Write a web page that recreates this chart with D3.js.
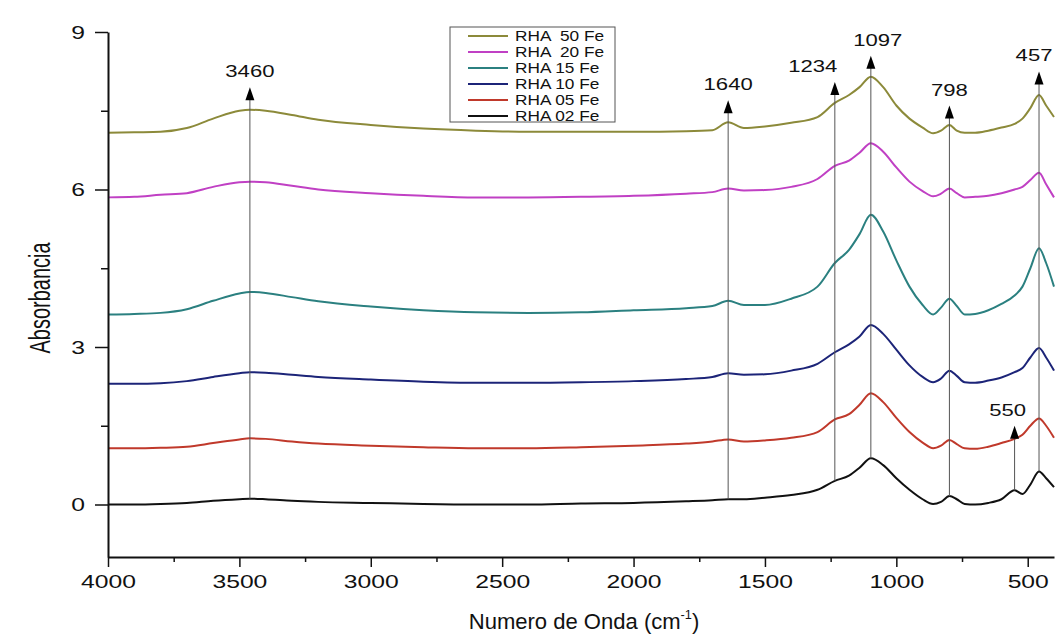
<!DOCTYPE html>
<html>
<head>
<meta charset="utf-8">
<script src="https://cdn.jsdelivr.net/npm/d3@7"></script>
<style>
  body { margin: 0; background: #fff; }
  svg { display: block; font-family: "Liberation Sans", Arial, sans-serif; }
</style>
</head>
<body>
<svg id="chart" width="1060" height="636"></svg>
<script>
// wavenumber grid (cm-1)
const wavenumbers = [4000, 3900, 3800, 3700, 3600, 3500, 3460, 3400, 3300, 3200, 3000, 2800, 2600, 2400, 2200, 2000, 1800, 1700, 1640, 1580, 1500, 1400, 1300, 1234, 1180, 1140, 1097, 1050, 1000, 950, 900, 860, 830, 798, 770, 740, 700, 650, 600, 550, 520, 490, 457, 430, 400];

const rha50 = [7.08, 7.09, 7.10, 7.17, 7.35, 7.50, 7.52, 7.50, 7.42, 7.33, 7.23, 7.16, 7.12, 7.10, 7.10, 7.10, 7.11, 7.13, 7.28, 7.17, 7.20, 7.27, 7.38, 7.65, 7.80, 7.95, 8.15, 7.95, 7.60, 7.35, 7.18, 7.07, 7.12, 7.23, 7.12, 7.08, 7.08, 7.12, 7.18, 7.25, 7.35, 7.55, 7.80, 7.60, 7.38];
const rha20 = [5.85, 5.86, 5.90, 5.93, 6.05, 6.14, 6.15, 6.14, 6.07, 6.00, 5.93, 5.88, 5.85, 5.85, 5.86, 5.88, 5.92, 5.95, 6.02, 5.98, 5.99, 6.05, 6.20, 6.45, 6.55, 6.70, 6.88, 6.72, 6.42, 6.15, 5.97, 5.87, 5.92, 6.02, 5.93, 5.85, 5.86, 5.88, 5.93, 6.00, 6.05, 6.18, 6.32, 6.10, 5.85];
const rha15 = [3.62, 3.63, 3.65, 3.72, 3.88, 4.02, 4.05, 4.03, 3.95, 3.87, 3.77, 3.70, 3.66, 3.65, 3.66, 3.70, 3.74, 3.78, 3.88, 3.80, 3.80, 3.92, 4.15, 4.60, 4.85, 5.15, 5.52, 5.20, 4.65, 4.15, 3.80, 3.62, 3.75, 3.92, 3.78, 3.62, 3.63, 3.70, 3.82, 3.98, 4.15, 4.50, 4.88, 4.60, 4.15];
const rha10 = [2.30, 2.30, 2.31, 2.35, 2.43, 2.50, 2.52, 2.51, 2.47, 2.43, 2.38, 2.34, 2.32, 2.32, 2.33, 2.35, 2.39, 2.43, 2.50, 2.47, 2.48, 2.55, 2.68, 2.90, 3.05, 3.20, 3.42, 3.25, 2.95, 2.65, 2.43, 2.33, 2.40, 2.55, 2.45, 2.33, 2.32, 2.36, 2.42, 2.52, 2.60, 2.80, 2.98, 2.80, 2.55];
const rha05 = [1.07, 1.07, 1.08, 1.10, 1.17, 1.24, 1.26, 1.25, 1.20, 1.16, 1.12, 1.09, 1.07, 1.07, 1.09, 1.12, 1.16, 1.20, 1.24, 1.20, 1.22, 1.27, 1.38, 1.62, 1.72, 1.90, 2.12, 1.95, 1.65, 1.38, 1.18, 1.07, 1.12, 1.23, 1.15, 1.07, 1.06, 1.10, 1.17, 1.25, 1.33, 1.50, 1.64, 1.50, 1.27];
const rha02 = [0.00, 0.00, 0.01, 0.03, 0.07, 0.10, 0.11, 0.10, 0.07, 0.05, 0.03, 0.01, 0.00, 0.00, 0.02, 0.03, 0.06, 0.08, 0.10, 0.10, 0.13, 0.18, 0.28, 0.45, 0.55, 0.70, 0.88, 0.75, 0.50, 0.28, 0.10, 0.01, 0.05, 0.16, 0.10, 0.01, 0.00, 0.03, 0.10, 0.27, 0.20, 0.38, 0.63, 0.50, 0.33];

const seriesNames = ["RHA  50 Fe", "RHA  20 Fe", "RHA 15 Fe", "RHA 10 Fe", "RHA 05 Fe", "RHA 02 Fe"];
const seriesValues = [rha50, rha20, rha15, rha10, rha05, rha02];
const palette = ["#8c8a3a", "#c040c4", "#2b8080", "#1c2478", "#c0392b", "#111111"];

const xTicks = [4000, 3500, 3000, 2500, 2000, 1500, 1000, 500];
const xMinor = [3750, 3250, 2750, 2250, 1750, 1250, 750];
const yTicks = [0, 3, 6, 9];
const yMinor = [1.5, 4.5, 7.5];

// marked bands: wavenumber, arrow tip (absorbance), label
const peakWavenumbers = [3460, 1640, 1234, 1097, 798, 457, 550];
const peakArrowTop = [7.95, 7.70, 8.05, 8.55, 7.60, 8.25, 1.50];
const peakLabels = ["3460", "1640", "1234", "1097", "798", "457", "550"];
const labelShift = [0, 0, -22, 7, 0, -5, -7];

const svg = d3.select('#chart');
const sx = 1.3; // picture is stretched sideways

const x = d3.scaleLinear().domain([4000, 400]).range([108, 1054]);
const y = d3.scaleLinear().domain([-1, 9]).range([557, 32]);

// spectra
const line = d3.line()
    .x(d => x(d[0]))
    .y(d => y(d[1]))
    .curve(d3.curveMonotoneX);

seriesValues.forEach((vals, i) => {
    svg.append('path')
        .datum(wavenumbers.map((w, j) => [w, vals[j]]))
        .attr('fill', 'none')
        .attr('stroke', palette[i])
        .attr('stroke-width', 2)
        .attr('d', line);
});

// vertical marker lines with arrows
peakWavenumbers.forEach((w, i) => {
    const base = rha02[wavenumbers.indexOf(w)];
    const px = x(w);
    const top = y(peakArrowTop[i]);
    svg.append('line')
        .attr('x1', px).attr('x2', px)
        .attr('y1', y(base)).attr('y2', top + 10)
        .attr('stroke', '#555')
        .attr('stroke-width', 1);
    svg.append('path')
        .attr('d', `M${px},${top} L${px - 4.5},${top + 13} L${px + 4.5},${top + 13} Z`)
        .attr('fill', '#000');
    svg.append('text')
        .attr('transform', `translate(${px + labelShift[i]},${top - 10}) scale(${sx},1)`)
        .attr('text-anchor', 'middle')
        .attr('font-size', 17)
        .attr('fill', '#111')
        .text(peakLabels[i]);
});

// axes
const xAxis = svg.append('g')
    .attr('transform', 'translate(0,557)')
    .call(d3.axisBottom(x).tickValues(xTicks).tickFormat(d3.format('d'))
        .tickSize(10).tickSizeOuter(0).tickPadding(8));
svg.append('g')
    .attr('transform', 'translate(0,557)')
    .call(d3.axisBottom(x).tickValues(xMinor).tickSize(5).tickFormat(''))
    .select('.domain').remove();

const yAxis = svg.append('g')
    .attr('transform', 'translate(108,0)')
    .call(d3.axisLeft(y).tickValues(yTicks).tickSize(13).tickSizeOuter(0));
svg.append('g')
    .attr('transform', 'translate(108,0)')
    .call(d3.axisLeft(y).tickValues(yMinor).tickSize(7).tickFormat(''))
    .select('.domain').remove();

svg.selectAll('.domain').attr('stroke-width', 2).attr('stroke', '#111');
svg.selectAll('.tick line').attr('stroke-width', 1.5).attr('stroke', '#111');

xAxis.selectAll('text')
    .attr('font-size', 19)
    .attr('font-family', '"Liberation Sans", Arial, sans-serif')
    .attr('fill', '#111')
    .attr('transform', `scale(${sx},1)`);

yAxis.selectAll('text')
    .attr('font-size', 19)
    .attr('font-family', '"Liberation Sans", Arial, sans-serif')
    .attr('fill', '#111')
    .attr('x', -23 / sx)
    .attr('transform', `scale(${sx},1)`);

// axis titles
svg.append('text')
    .attr('transform', 'translate(50,298) scale(1.45,1) rotate(-90)')
    .attr('text-anchor', 'middle')
    .attr('font-size', 20)
    .attr('fill', '#111')
    .text('Absorbancia');

const xTitle = svg.append('text')
    .attr('transform', 'translate(584,629) scale(0.98,1)')
    .attr('text-anchor', 'middle')
    .attr('font-size', 22.5)
    .attr('fill', '#111');
xTitle.append('tspan').text('Numero de Onda (cm');
xTitle.append('tspan').attr('font-size', 13).attr('dy', -10).text('-1');
xTitle.append('tspan').attr('dy', 10).text(')');

// legend
const legend = svg.append('g');
legend.append('rect')
    .attr('x', 450).attr('y', 27)
    .attr('width', 165).attr('height', 95)
    .attr('fill', '#fff')
    .attr('stroke', '#555')
    .attr('stroke-width', 1);

seriesNames.forEach((name, i) => {
    const cy = 36 + i * 16;
    legend.append('line')
        .attr('x1', 468).attr('x2', 508)
        .attr('y1', cy).attr('y2', cy)
        .attr('stroke', palette[i])
        .attr('stroke-width', 2);
    legend.append('text')
        .attr('transform', `translate(515,${cy + 5}) scale(1.15,1)`)
        .attr('font-size', 15)
        .attr('fill', '#111')
        .style('white-space', 'pre')
        .text(name);
});
</script>
</body>
</html>
